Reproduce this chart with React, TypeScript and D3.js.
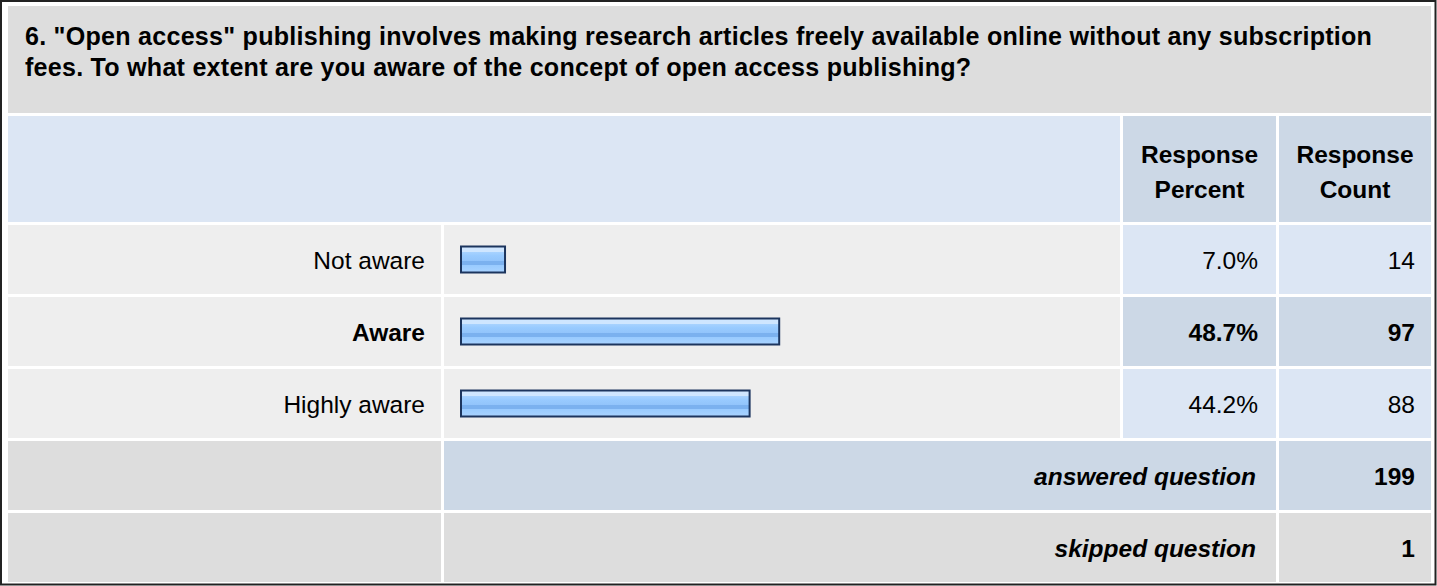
import * as d3 from "d3";

const titleLines = [
  '6. "Open access" publishing involves making research articles freely available online without any subscription',
  "fees. To what extent are you aware of the concept of open access publishing?",
];
const answers = ["Not aware", "Aware", "Highly aware"];
const percents = [7.0, 48.7, 44.2];
const counts = [14, 97, 88];
const highlighted = "Aware";
const answeredCount = 199;
const skippedCount = 1;

const W = 1437;
const H = 586;
const FONT = "Arial, 'Liberation Sans', Helvetica, sans-serif";
const FS = 24.5;

// column edges
const c1 = [8, 441];
const c2 = [444, 1120];
const c3 = [1123, 1276];
const c4 = [1279, 1431];

const ROW_H = 69;
const rowTop = (i: number) => 225 + i * 72;

export default function App() {
  const x = d3.scaleLinear().domain([0, 100]).range([460, 1117.5]);
  const fmt = d3.format(".1f");

  const bodyRows = answers.map((a, i) => ({ a, p: percents[i], c: counts[i], y: rowTop(i) }));

  return (
    <svg
      width={W}
      height={H}
      style={{ position: "absolute", left: 0, top: 0, background: "#fff" }}
      fontFamily={FONT}
    >
      <defs>
        <linearGradient id="barGrad" x1="0" y1="0" x2="0" y2="1">
          <stop offset="0" stopColor="#cfe6ff" />
          <stop offset="0.2" stopColor="#cfe6ff" />
          <stop offset="0.2" stopColor="#a9d3ff" />
          <stop offset="0.35" stopColor="#99cbff" />
          <stop offset="0.55" stopColor="#92c4fb" />
          <stop offset="0.55" stopColor="#7bb1ef" />
          <stop offset="0.72" stopColor="#7bb1ef" />
          <stop offset="0.72" stopColor="#99cbff" />
          <stop offset="1" stopColor="#a9d3ff" />
        </linearGradient>
      </defs>

      {/* outer frame */}
      <rect x={1} y={1} width={W - 2.5} height={H - 2.5} fill="#fff" stroke="#222" strokeWidth={2} />

      {/* title */}
      <rect x={c1[0]} y={6} width={c4[1] - c1[0]} height={107} fill="#dddddd" />
      {titleLines.map((t, i) => (
        <text
          key={i}
          x={25}
          y={45 + i * 31}
          fontSize={FS + 0.6}
          letterSpacing={0.24}
          fontWeight="bold"
          fill="#000"
        >
          {t}
        </text>
      ))}

      {/* header row */}
      <rect x={c1[0]} y={116} width={c2[1] - c1[0]} height={106} fill="#dce6f4" />
      <rect x={c3[0]} y={116} width={c3[1] - c3[0]} height={106} fill="#ccd8e6" />
      <rect x={c4[0]} y={116} width={c4[1] - c4[0]} height={106} fill="#ccd8e6" />
      {[
        { col: c3, lines: ["Response", "Percent"] },
        { col: c4, lines: ["Response", "Count"] },
      ].map((h, i) =>
        h.lines.map((l, j) => (
          <text
            key={`${i}-${j}`}
            x={(h.col[0] + h.col[1]) / 2}
            y={163 + j * 35}
            fontSize={FS}
            fontWeight="bold"
            textAnchor="middle"
          >
            {l}
          </text>
        ))
      )}

      {/* answer rows */}
      {bodyRows.map((r) => {
        const hi = r.a === highlighted;
        const valFill = hi ? "#ccd8e6" : "#dce6f4";
        const base = r.y + ROW_H / 2 + 9;
        const barH = 28;
        const by = r.y + ROW_H / 2 - barH / 2;
        return (
          <g key={r.a}>
            <rect x={c1[0]} y={r.y} width={c1[1] - c1[0]} height={ROW_H} fill="#eeeeee" />
            <rect x={c2[0]} y={r.y} width={c2[1] - c2[0]} height={ROW_H} fill="#eeeeee" />
            <rect x={c3[0]} y={r.y} width={c3[1] - c3[0]} height={ROW_H} fill={valFill} />
            <rect x={c4[0]} y={r.y} width={c4[1] - c4[0]} height={ROW_H} fill={valFill} />
            <text x={425} y={base} fontSize={FS} textAnchor="end" fontWeight={hi ? "bold" : "normal"}>
              {r.a}
            </text>
            <rect
              x={x(0) + 1}
              y={by + 1}
              width={x(r.p) - x(0) - 2}
              height={barH - 2}
              fill="url(#barGrad)"
              stroke="#1c355e"
              strokeWidth={2}
            />
            <text x={1258} y={base} fontSize={FS} textAnchor="end" fontWeight={hi ? "bold" : "normal"}>
              {fmt(r.p)}%
            </text>
            <text x={1415} y={base} fontSize={FS} textAnchor="end" fontWeight={hi ? "bold" : "normal"}>
              {r.c}
            </text>
          </g>
        );
      })}

      {/* answered question */}
      {(() => {
        const y = rowTop(3);
        const base = y + ROW_H / 2 + 9;
        return (
          <g>
            <rect x={c1[0]} y={y} width={c1[1] - c1[0]} height={ROW_H} fill="#dddddd" />
            <rect x={c2[0]} y={y} width={c3[1] - c2[0]} height={ROW_H} fill="#ccd8e6" />
            <rect x={c4[0]} y={y} width={c4[1] - c4[0]} height={ROW_H} fill="#ccd8e6" />
            <text x={1256} y={base} fontSize={FS} fontWeight="bold" fontStyle="italic" textAnchor="end">
              answered question
            </text>
            <text x={1415} y={base} fontSize={FS} fontWeight="bold" textAnchor="end">
              {answeredCount}
            </text>
          </g>
        );
      })()}

      {/* skipped question */}
      {(() => {
        const y = rowTop(4);
        const base = y + ROW_H / 2 + 9;
        return (
          <g>
            <rect x={c1[0]} y={y} width={c1[1] - c1[0]} height={ROW_H} fill="#dddddd" />
            <rect x={c2[0]} y={y} width={c3[1] - c2[0]} height={ROW_H} fill="#dddddd" />
            <rect x={c4[0]} y={y} width={c4[1] - c4[0]} height={ROW_H} fill="#dddddd" />
            <text x={1256} y={base} fontSize={FS} fontWeight="bold" fontStyle="italic" textAnchor="end">
              skipped question
            </text>
            <text x={1415} y={base} fontSize={FS} fontWeight="bold" textAnchor="end">
              {skippedCount}
            </text>
          </g>
        );
      })()}
    </svg>
  );
}
